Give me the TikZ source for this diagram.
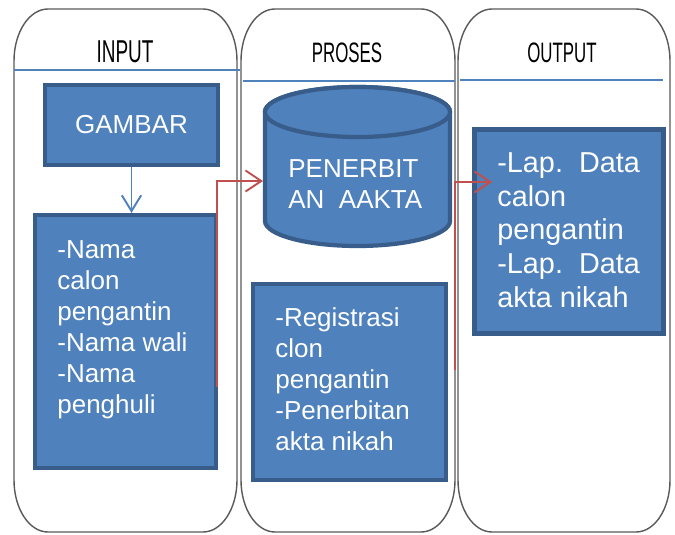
\documentclass[tikz,border=0pt]{standalone}
\usepackage{fontspec}
\setmainfont{Liberation Sans}
\newfontfamily\headfont{Liberation Sans}[FakeStretch=0.6]
\usetikzlibrary{arrows.meta,positioning}
\definecolor{boxfill}{HTML}{4F81BD}
\definecolor{boxline}{HTML}{385D8A}
\definecolor{flowred}{HTML}{C0504D}
\definecolor{laneline}{HTML}{595959}

\begin{document}
\begin{tikzpicture}[x=0.02cm,y=0.02cm,
  lane/.style={draw=laneline,line width=0.8pt},
  headline/.style={draw=boxfill,line width=0.8pt},
  box/.style={draw=boxline,fill=boxfill,line width=2.4pt,inner sep=0pt,text=white,
    font=\fontsize{14.8}{17.6}\selectfont},
  boxtext/.style={text=white,inner sep=0pt,align=left,font=\fontsize{14.8}{17.6}\selectfont},
  head/.style={inner sep=0pt,font=\headfont\fontsize{16}{18}\selectfont},
  redflow/.style={draw=flowred,line width=1.1pt,-{Straight Barb[length=9pt,width=12pt]}},
  blueflow/.style={draw=boxfill,line width=1.1pt,-{Straight Barb[length=9pt,width=11pt]}}]

  \useasboundingbox (0,0) rectangle (675,-534);

  \draw[lane] (14,-61) -- (14,-480) arc[start angle=180,end angle=270,x radius=34,y radius=52]
    -- (203,-532) arc[start angle=270,end angle=360,x radius=34,y radius=52]
    -- (237,-61) arc[start angle=0,end angle=90,x radius=34,y radius=52]
    -- (48,-9) arc[start angle=90,end angle=180,x radius=34,y radius=52] -- cycle;
  \draw[lane] (241,-61) -- (241,-480) arc[start angle=180,end angle=270,x radius=34,y radius=52]
    -- (421,-532) arc[start angle=270,end angle=360,x radius=34,y radius=52]
    -- (455,-61) arc[start angle=0,end angle=90,x radius=34,y radius=52]
    -- (275,-9) arc[start angle=90,end angle=180,x radius=34,y radius=52] -- cycle;
  \draw[lane] (458,-61) -- (458,-480) arc[start angle=180,end angle=270,x radius=34,y radius=52]
    -- (636,-532) arc[start angle=270,end angle=360,x radius=34,y radius=52]
    -- (670,-61) arc[start angle=0,end angle=90,x radius=34,y radius=52]
    -- (492,-9) arc[start angle=90,end angle=180,x radius=34,y radius=52] -- cycle;

  \node[head,font=\headfont\fontsize{18}{20}\selectfont] (input) at (125,-52) {INPUT};
  \draw[headline] (14,-70) -- (240,-70);
  \node[head] (proses) at (347,-53) {PROSES};
  \draw[headline] (243,-81) -- (455,-81);
  \node[head] (output) at (562,-53) {OUTPUT};
  \draw[headline] (460,-80) -- (663,-80);

  \node[box,minimum width=3.46cm,minimum height=1.6cm] (gambar) at (131.5,-125) {GAMBAR};
  \node[box,minimum width=3.62cm,minimum height=5.06cm] (nama) at (125.5,-341.5) {};
  \node[boxtext,anchor=base west] (namatext) at (57,-413)
    {-Nama\\calon\\pengantin\\-Nama wali\\-Nama\\penghuli};

  \filldraw[draw=boxline,fill=boxfill,line width=2.4pt] (265,-112) -- (265,-221)
    arc[start angle=180,end angle=360,x radius=92.5,y radius=25] -- (450,-112)
    arc[start angle=0,end angle=180,x radius=92.5,y radius=25] -- cycle;
  \filldraw[draw=boxline,fill=boxfill,line width=2.4pt] (357.5,-112) ellipse[x radius=92.5,y radius=25];
  \node[boxtext,anchor=base west] (terbit) at (288,-208) {PENERBIT\\AN\ \ AAKTA};
  \coordinate (tabung) at (263,-181);

  \node[box,minimum width=3.86cm,minimum height=3.92cm] (proseskotak) at (349.5,-382) {};
  \node[boxtext,anchor=base west] (prosestext) at (275,-450)
    {-Registrasi\\clon\\pengantin\\-Penerbitan\\akta nikah};

  \node[box,minimum width=3.78cm,minimum height=4.08cm] (laporan) at (569,-231.5) {};
  \node[boxtext,anchor=base west,font=\fontsize{16.4}{19.1}\selectfont] (laporantext) at (497,-307)
    {-Lap.\ \ Data\\calon\\pengantin\\-Lap.\ \ Data\\akta nikah};
  \coordinate (laporanin) at (492,-182);

  \coordinate (namaout) at (217,-387);
  \coordinate (prosesout) at (455,-370);
  \draw[blueflow] (gambar.south) -- (gambar.south |- nama.north);
  \draw[redflow] (namaout) |- (tabung);
  \draw[redflow] (prosesout) |- (laporanin);

\end{tikzpicture}
\end{document}
